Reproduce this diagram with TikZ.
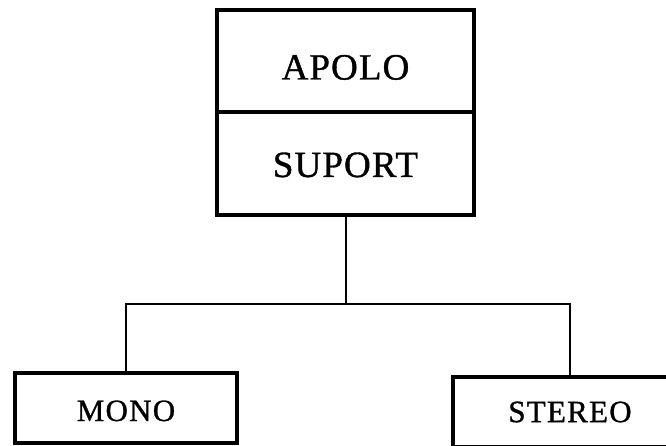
\documentclass[tikz,border=0pt]{standalone}
\usepackage{fontspec}
\setmainfont{Liberation Serif}
\newfontfamily\bigfont[LetterSpace=3, FakeBold=1]{Liberation Serif}
\newfontfamily\smallfont[LetterSpace=4, FakeBold=1]{Liberation Serif}
\usetikzlibrary{positioning}
\tikzset{
    unit/.style={draw=black, line width=3.2pt, rectangle, inner sep=0pt, outer sep=0pt},
    bigtext/.style={font=\bigfont\fontsize{37}{40}\selectfont},
    smalltext/.style={font=\smallfont\fontsize{31}{34}\selectfont},
    link/.style={draw=black, line width=2pt}
}

\begin{document}
\begin{tikzpicture}[x=1pt,y=-1pt]
\useasboundingbox (0,0) rectangle (666,446);
\node[style={unit,bigtext}, minimum width=257pt, minimum height=102pt,
  text height=37pt, text depth=0pt]
  (apolo) at (345.5,61) {APOLO};
\node[style={unit,bigtext}, minimum width=257pt, minimum height=103pt,
  text height=27pt, text depth=0pt, below=0pt of apolo]
  (suport) {SUPORT};
\node[style={unit,smalltext}, minimum width=222pt, minimum height=70pt,
  text height=26pt, text depth=0pt]
  (mono) at (126,408) {MONO};
\node[style={unit,smalltext}, minimum width=234pt, minimum height=70pt]
  (stereo) at (570,412) {STEREO};
\coordinate (split) at (345.5,304);
\draw[style={link}] (suport.south) -- (split);
\draw[style={link}] (mono.north) |- (split);
\draw[style={link}] (split) -| (stereo.north);
\end{tikzpicture}
\end{document}
